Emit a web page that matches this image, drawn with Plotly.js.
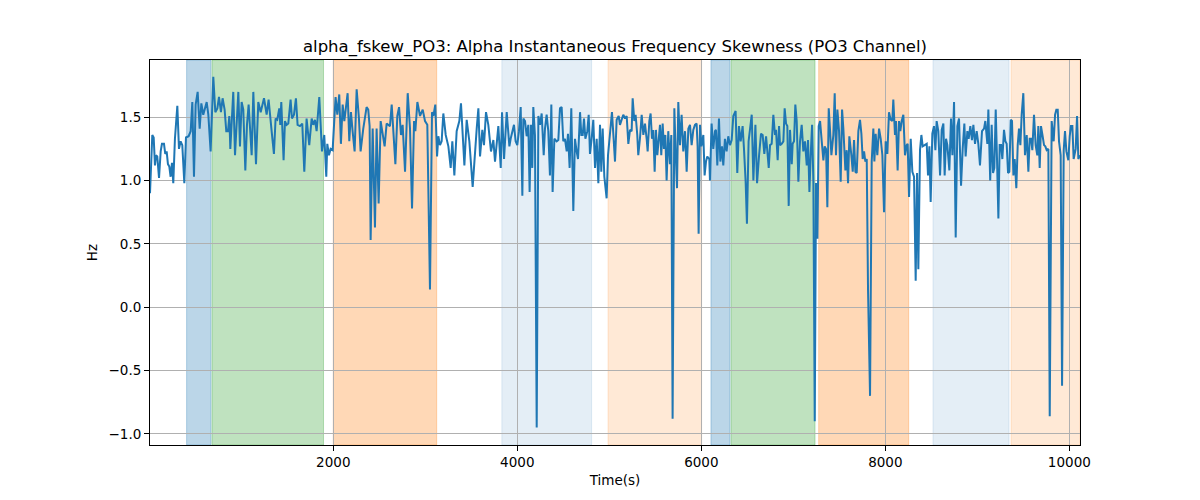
<!DOCTYPE html>
<html>
<head>
<meta charset="utf-8">
<script src="https://cdn.plot.ly/plotly-3.0.1.min.js"></script>
<style>
  html, body { margin: 0; padding: 0; background: #ffffff; }
  #chart { width: 1200px; height: 500px; }
</style>
</head>
<body>
<div id="chart"></div>
<script>
/* alpha_fskew_PO3 — instantaneous frequency skewness, PO3 channel,
 * with shaded stage spans behind the trace. */

const timeSec = [
  8, 33, 48, 62, 73, 87, 106, 124, 138, 160, 174, 189, 203, 218, 232, 247, 261, 279, 305, 323,
  341, 359, 381, 399, 428, 450, 468, 486, 504, 526, 548, 566, 587, 605, 624, 642, 667, 696, 718, 740,
  758, 779, 797, 819, 837, 856, 870, 881, 913, 932, 950, 968, 986, 1004, 1022, 1044, 1062, 1080, 1113, 1131,
  1160, 1185, 1211, 1247, 1276, 1297, 1330, 1355, 1373, 1391, 1413, 1424, 1435, 1460, 1475, 1493, 1511, 1536, 1551, 1573,
  1594, 1612, 1638, 1663, 1685, 1710, 1739, 1765, 1783, 1801, 1819, 1848, 1877, 1902, 1924, 1935, 1953, 1971, 1993, 2025,
  2044, 2065, 2083, 2102, 2120, 2156, 2174, 2192, 2210, 2232, 2254, 2279, 2297, 2326, 2362, 2380, 2395, 2406, 2428, 2453,
  2471, 2493, 2515, 2536, 2558, 2580, 2616, 2635, 2653, 2675, 2696, 2715, 2736, 2754, 2780, 2809, 2834, 2856, 2878, 2892,
  2914, 2943, 2972, 2997, 3022, 3051, 3073, 3088, 3109, 3128, 3142, 3160, 3178, 3196, 3222, 3251, 3276, 3294, 3316, 3341,
  3370, 3388, 3425, 3450, 3479, 3515, 3559, 3577, 3595, 3620, 3638, 3660, 3685, 3714, 3740, 3758, 3794, 3820, 3834, 3856,
  3885, 3914, 3928, 3946, 3964, 3982, 4000, 4018, 4037, 4055, 4066, 4084, 4102, 4120, 4134, 4149, 4163, 4174, 4192, 4211,
  4229, 4247, 4265, 4287, 4301, 4319, 4337, 4355, 4370, 4384, 4403, 4428, 4446, 4464, 4482, 4500, 4518, 4537, 4551, 4569,
  4587, 4609, 4627, 4645, 4660, 4682, 4696, 4711, 4725, 4740, 4761, 4776, 4790, 4808, 4826, 4845, 4863, 4881, 4899, 4913,
  4928, 4946, 4971, 4986, 5008, 5029, 5047, 5062, 5080, 5102, 5116, 5134, 5152, 5171, 5189, 5207, 5225, 5243, 5254, 5272,
  5286, 5304, 5315, 5333, 5352, 5370, 5388, 5406, 5417, 5435, 5449, 5464, 5478, 5493, 5507, 5522, 5536, 5551, 5565, 5580,
  5594, 5609, 5623, 5641, 5659, 5674, 5688, 5707, 5721, 5736, 5750, 5768, 5786, 5804, 5823, 5841, 5859, 5877, 5895, 5913,
  5931, 5949, 5960, 5971, 5986, 6000, 6022, 6036, 6051, 6065, 6087, 6094, 6112, 6130, 6149, 6159, 6174, 6192, 6207, 6225,
  6239, 6257, 6275, 6293, 6312, 6330, 6348, 6373, 6391, 6409, 6428, 6449, 6464, 6482, 6496, 6514, 6548, 6566, 6588, 6606,
  6628, 6649, 6667, 6685, 6704, 6718, 6733, 6747, 6765, 6783, 6801, 6812, 6830, 6845, 6856, 6874, 6892, 6906, 6921, 6935,
  6950, 6964, 6983, 6993, 7008, 7022, 7037, 7055, 7073, 7091, 7109, 7127, 7146, 7160, 7175, 7189, 7204, 7218, 7233, 7247,
  7262, 7276, 7291, 7309, 7327, 7341, 7356, 7370, 7385, 7399, 7414, 7435, 7450, 7464, 7479, 7497, 7515, 7530, 7544, 7566,
  7580, 7595, 7609, 7631, 7646, 7660, 7675, 7689, 7707, 7725, 7740, 7754, 7769, 7783, 7798, 7812, 7827, 7834, 7852, 7870,
  7881, 7895, 7913, 7932, 7950, 7968, 7986, 8004, 8022, 8040, 8058, 8076, 8087, 8105, 8116, 8134, 8149, 8163, 8178, 8196,
  8214, 8232, 8243, 8258, 8276, 8294, 8312, 8330, 8345, 8359, 8377, 8392, 8406, 8424, 8450, 8464, 8479, 8493, 8511, 8529,
  8544, 8558, 8576, 8595, 8613, 8631, 8645, 8660, 8674, 8696, 8714, 8729, 8747, 8765, 8783, 8801, 8823, 8841, 8859, 8873,
  8892, 8906, 8924, 8942, 8957, 8975, 8993, 9011, 9029, 9051, 9073, 9087, 9109, 9120, 9140, 9156, 9171, 9185, 9200, 9214,
  9229, 9243, 9258, 9272, 9290, 9305, 9319, 9334, 9348, 9363, 9377, 9392, 9406, 9424, 9439, 9453, 9468, 9482, 9500, 9518,
  9537, 9555, 9569, 9584, 9598, 9616, 9634, 9652, 9663, 9678, 9692, 9710, 9725, 9739, 9754, 9772, 9787, 9808, 9830, 9845,
  9859, 9874, 9888, 9906, 9921, 9939, 9953, 9968, 9989, 10004, 10018, 10033, 10047, 10069, 10084, 10098, 10116
];

const skewHz = [
  0.90, 1.36, 1.34, 1.12, 1.20, 1.19, 1.02, 1.23, 1.29, 1.29, 1.21, 1.23, 1.13, 1.11, 1.03, 1.14, 0.98, 1.33, 1.59, 1.25,
  1.31, 1.28, 0.98, 1.34, 1.35, 1.39, 1.62, 1.03, 1.60, 1.70, 1.41, 1.61, 1.52, 1.56, 1.62, 1.52, 1.23, 1.82, 1.54, 1.57,
  1.66, 1.54, 1.65, 1.56, 1.39, 1.39, 1.51, 1.25, 1.70, 1.20, 1.49, 1.70, 1.27, 1.62, 1.56, 1.08, 1.44, 1.60, 1.20, 1.70,
  1.13, 1.62, 1.54, 1.65, 1.52, 1.64, 1.39, 1.21, 1.49, 1.48, 1.57, 1.44, 1.62, 1.16, 1.47, 1.44, 1.45, 1.64, 1.49, 1.52,
  1.65, 1.44, 1.43, 1.45, 1.07, 1.49, 1.28, 1.49, 1.44, 1.48, 1.39, 1.66, 1.23, 1.36, 1.03, 1.29, 1.20, 1.25, 1.24, 1.66,
  1.52, 1.68, 1.29, 1.60, 1.47, 1.69, 1.31, 1.54, 1.39, 1.23, 1.72, 1.49, 1.23, 1.41, 1.58, 1.56, 1.43, 0.53, 1.41, 0.63,
  1.41, 0.82, 1.47, 1.36, 1.27, 1.45, 1.43, 1.60, 1.36, 1.13, 1.51, 1.58, 1.36, 1.44, 1.07, 1.69, 1.41, 0.78, 1.47, 1.39,
  1.62, 1.51, 1.56, 1.47, 1.44, 0.14, 1.54, 1.51, 1.60, 1.19, 1.35, 1.28, 1.31, 1.53, 1.36, 1.27, 1.10, 1.31, 1.04, 1.39,
  1.47, 1.61, 1.12, 1.48, 1.31, 0.95, 1.41, 1.57, 1.19, 1.40, 1.28, 1.54, 1.44, 1.23, 1.32, 1.15, 1.43, 1.10, 1.54, 1.17,
  1.54, 1.27, 1.33, 1.39, 1.44, 1.31, 1.28, 1.39, 1.58, 0.88, 1.49, 1.47, 1.35, 1.44, 0.91, 1.44, 1.10, 1.58, 1.36, -0.95,
  1.51, 1.44, 1.53, 1.20, 1.41, 1.52, 1.39, 1.04, 1.60, 0.91, 1.33, 1.31, 1.32, 1.57, 1.58, 1.31, 1.33, 1.23, 1.37, 1.10,
  1.57, 0.76, 1.33, 1.23, 1.17, 1.54, 1.36, 1.36, 1.49, 1.33, 1.39, 1.52, 1.21, 1.33, 1.48, 1.10, 1.33, 0.98, 1.44, 1.07,
  1.41, 1.03, 0.86, 1.20, 1.41, 1.54, 1.33, 1.15, 1.48, 1.51, 1.44, 1.48, 1.52, 1.49, 1.51, 1.29, 1.40, 1.39, 1.65, 1.47,
  1.52, 1.36, 1.20, 1.33, 1.52, 1.36, 1.45, 1.33, 1.23, 1.47, 1.53, 1.33, 1.40, 1.07, 1.40, 1.20, 1.31, 1.44, 1.20, 1.45,
  1.25, 1.36, 1.00, 1.39, 1.13, 1.36, -0.88, 1.57, 1.23, 0.94, 1.62, 1.28, 1.52, 1.23, 1.39, 1.07, 1.41, 1.44, 1.28, 1.40,
  1.44, 1.45, 1.27, 0.58, 1.44, 1.27, 1.36, 1.04, 1.15, 1.19, 1.17, 1.00, 1.45, 1.25, 1.39, 1.40, 1.12, 1.49, 1.15, 1.27,
  1.12, 1.33, 1.23, 1.35, 1.28, 1.32, 1.51, 1.55, 1.06, 1.43, 1.31, 1.43, 1.25, 0.99, 0.66, 1.31, 1.52, 1.00, 1.44, 0.98,
  1.20, 1.37, 1.36, 1.21, 1.35, 1.24, 1.10, 1.28, 1.29, 1.52, 1.36, 1.40, 1.16, 1.43, 1.28, 1.29, 1.31, 1.57, 1.45, 1.43,
  0.80, 1.40, 1.13, 1.29, 1.31, 1.60, 1.47, 0.99, 1.31, 1.44, 1.23, 1.31, 1.12, 1.32, 0.91, 1.20, 1.44, 0.99, -0.90, 0.98,
  0.54, 1.43, 1.47, 1.31, 1.16, 1.27, 1.25, 0.79, 1.57, 1.40, 1.20, 1.36, 1.69, 1.20, 1.56, 1.39, 0.99, 1.56, 1.41, 1.08,
  1.24, 0.98, 1.35, 1.20, 1.07, 1.32, 1.07, 1.06, 1.39, 1.48, 1.37, 1.17, 1.23, 1.15, 1.17, 0.14, -0.62, -0.70, 1.15, 1.41,
  1.15, 1.37, 1.20, 1.41, 1.33, 1.20, 0.75, 1.31, 1.21, 1.54, 1.48, 1.47, 1.64, 1.36, 1.47, 1.08, 1.47, 1.39, 1.47, 1.52,
  1.20, 1.28, 1.29, 0.87, 1.33, 1.07, 1.03, 0.21, 1.06, 0.30, 1.24, 1.36, 1.27, 1.28, 1.29, 1.04, 1.27, 0.83, 1.37, 1.43,
  1.24, 1.47, 1.39, 1.04, 1.40, 1.45, 1.04, 1.33, 1.28, 1.08, 1.49, 1.20, 1.62, 0.55, 1.43, 1.49, 0.96, 1.25, 1.45, 1.19,
  1.39, 1.33, 1.43, 1.32, 1.44, 1.29, 1.39, 1.29, 1.12, 1.39, 1.41, 1.47, 1.29, 1.56, 1.00, 1.44, 1.06, 1.10, 1.56, 1.17,
  0.70, 1.28, 1.28, 1.17, 1.40, 1.31, 1.29, 1.06, 1.07, 1.48, 1.47, 1.04, 1.17, 0.94, 1.28, 1.41, 1.28, 1.52, 1.69, 1.20,
  1.36, 1.07, 1.33, 1.33, 1.24, 1.52, 1.28, 1.20, 1.43, 1.10, 1.43, 1.35, 1.28, 1.27, 1.24, 1.25, -0.86, 1.47, 1.31, 1.52,
  1.56, 1.56, 1.31, 1.20, -0.62, 1.24, 1.39, 1.23, 1.16, 1.35, 1.43, 1.43, 1.17, 1.25, 1.51, 1.17, 1.20
];

// Shaded stage spans (start, end in seconds) with their colour and alpha
const spanStart = [406, 682, 2000, 3832, 4986, 6105, 6323, 7276, 8518, 9367];
const spanEnd   = [671, 1894, 3124, 4808, 6004, 6312, 7236, 8254, 9345, 10116];
const spanColor = ['31,119,180', '44,160,44', '255,127,14', '31,119,180', '255,127,14',
                   '31,119,180', '44,160,44', '255,127,14', '31,119,180', '255,127,14'];
const spanAlpha = [0.3, 0.3, 0.3, 0.12, 0.17, 0.3, 0.3, 0.3, 0.12, 0.17];

const yTicks = [-1.0, -0.5, 0.0, 0.5, 1.0, 1.5];
const xTicks = [2000, 4000, 6000, 8000, 10000];

const FONT = "'DejaVu Sans', sans-serif";

const shapes = spanStart.map((s, i) => ({
  type: 'rect',
  xref: 'x',
  yref: 'paper',
  x0: s,
  x1: spanEnd[i],
  y0: 0,
  y1: 1,
  fillcolor: 'rgba(' + spanColor[i] + ',' + spanAlpha[i] + ')',
  line: { color: 'rgba(' + spanColor[i] + ',' + spanAlpha[i] + ')', width: 1 },
  layer: 'below',
}));

const trace = {
  type: 'scatter',
  mode: 'lines',
  x: timeSec,
  y: skewHz,
  line: { color: '#1f77b4', width: 2 },
  hoverinfo: 'x+y',
  showlegend: false,
};

const axisCommon = {
  showline: true,
  mirror: true,
  linecolor: '#000000',
  linewidth: 1,
  ticks: 'outside',
  ticklen: 5,
  tickwidth: 1,
  tickcolor: '#000000',
  showgrid: true,
  gridcolor: '#b0b0b0',
  gridwidth: 1,
  zeroline: false,
  tickfont: { family: FONT, size: 13.5, color: '#000000' },
};

const layout = {
  width: 1200,
  height: 500,
  paper_bgcolor: '#ffffff',
  plot_bgcolor: '#ffffff',
  margin: { l: 150, r: 120, t: 60, b: 55 },
  title: {
    text: 'alpha_fskew_PO3: Alpha Instantaneous Frequency Skewness (PO3 Channel)',
    font: { family: FONT, size: 16.5, color: '#000000' },
    x: 0.5,
    xref: 'paper',
    xanchor: 'center',
    y: 0.908,
    yref: 'container',
    yanchor: 'middle',
  },
  xaxis: Object.assign({}, axisCommon, {
    range: [8, 10116],
    tickvals: xTicks,
    ticktext: xTicks.map(String),
    title: { text: 'Time(s)', font: { family: FONT, size: 13.5, color: '#000000' }, standoff: 6 },
  }),
  yaxis: Object.assign({}, axisCommon, {
    range: [-1.088, 1.952],
    tickvals: yTicks,
    ticktext: yTicks.map(v => v.toFixed(1).replace('-', '\u2212')),
    title: { text: 'Hz', font: { family: FONT, size: 13.5, color: '#000000' }, standoff: 7 },
  }),
  shapes: shapes,
};

Plotly.newPlot('chart', [trace], layout, { displayModeBar: false, staticPlot: true });
</script>
</body>
</html>
